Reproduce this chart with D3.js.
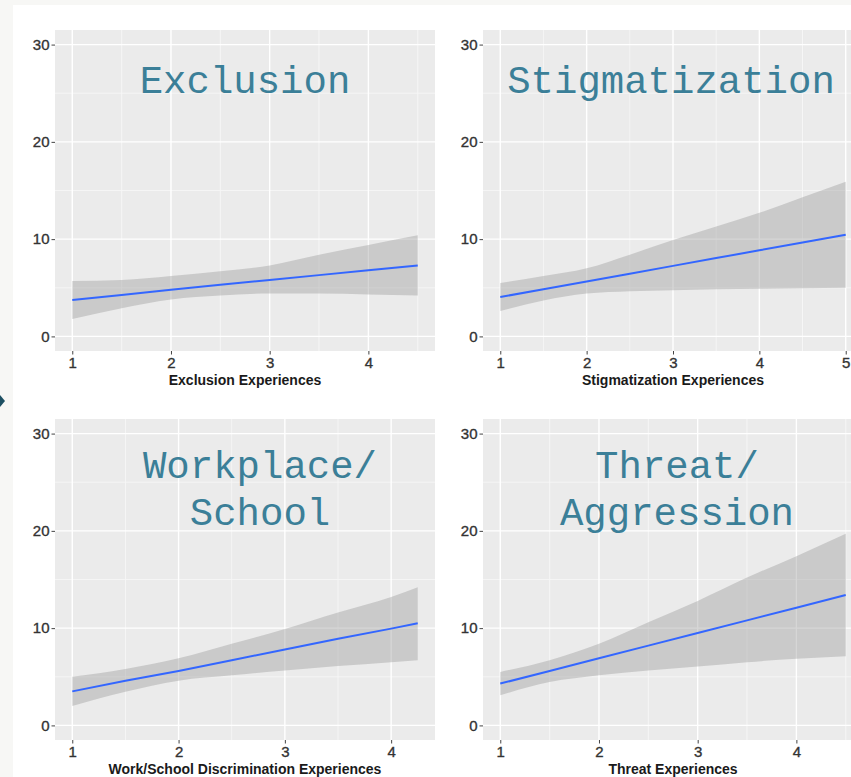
<!DOCTYPE html>
<html><head><meta charset="utf-8">
<script src="https://cdn.jsdelivr.net/npm/d3@7"></script>
<style>html,body{margin:0;padding:0;background:#fff;overflow:hidden}</style>
</head><body><svg id="c" width="851" height="777"></svg>
<script>
// ---------- data ----------
const yLimits = [0, 30];
const yTicks = [0, 10, 20, 30];
const yMinorTicks = [5, 15, 25];

const exclusionX     = [1, 1.5, 2, 2.5, 3, 3.5, 4, 4.5];
const exclusionFit   = [3.75, 4.25, 4.8, 5.3, 5.8, 6.3, 6.8, 7.3];
const exclusionLower = [1.8, 2.9, 3.8, 4.2, 4.4, 4.4, 4.3, 4.2];
const exclusionUpper = [5.7, 5.8, 6.2, 6.7, 7.3, 8.4, 9.4, 10.4];
const exclusionTicks = [1, 2, 3, 4];

const stigmaX     = [1, 1.5, 2, 2.5, 3, 3.5, 4, 4.5, 5];
const stigmaFit   = [4.05, 4.85, 5.65, 6.45, 7.25, 8.05, 8.85, 9.65, 10.45];
const stigmaLower = [2.6, 3.7, 4.4, 4.65, 4.75, 4.85, 4.9, 4.95, 5.0];
const stigmaUpper = [5.5, 6.2, 7.0, 8.4, 9.9, 11.3, 12.7, 14.3, 15.9];
const stigmaTicks = [1, 2, 3, 4, 5];

const workX     = [1, 1.5, 2, 2.5, 3, 3.5, 4, 4.25];
const workFit   = [3.5, 4.6, 5.6, 6.7, 7.8, 8.9, 9.95, 10.5];
const workLower = [2.0, 3.45, 4.6, 5.15, 5.65, 6.1, 6.5, 6.7];
const workUpper = [5.0, 5.8, 6.9, 8.4, 9.9, 11.6, 13.2, 14.2];
const workTicks = [1, 2, 3, 4];

const threatX     = [1, 1.5, 2, 2.5, 3, 3.5, 4, 4.5];
const threatFit   = [4.3, 5.6, 6.9, 8.2, 9.5, 10.8, 12.1, 13.4];
const threatLower = [3.1, 4.45, 5.15, 5.65, 6.05, 6.5, 6.85, 7.1];
const threatUpper = [5.5, 6.7, 8.4, 10.6, 12.8, 15.2, 17.4, 19.7];
const threatTicks = [1, 2, 3, 4];

const panelTitles = [["Exclusion"], ["Stigmatization"], ["Workplace/", "School"], ["Threat/", "Aggression"]];
const axisTitles = ["Exclusion Experiences", "Stigmatization Experiences",
                    "Work/School Discrimination Experiences", "Threat Experiences"];

// ---------- layout ----------
const PW = 380, PH = 321;
const layout = [
  {left: 55,  top: 30,  titleX: 245, titleY: 93},
  {left: 483, top: 30,  titleX: 671, titleY: 93},
  {left: 55,  top: 419, titleX: 260, titleY: 478},
  {left: 483, top: 419, titleX: 677, titleY: 478}
];
const panelData = [
  {x: exclusionX, fit: exclusionFit, lo: exclusionLower, hi: exclusionUpper, ticks: exclusionTicks},
  {x: stigmaX, fit: stigmaFit, lo: stigmaLower, hi: stigmaUpper, ticks: stigmaTicks},
  {x: workX, fit: workFit, lo: workLower, hi: workUpper, ticks: workTicks},
  {x: threatX, fit: threatFit, lo: threatLower, hi: threatUpper, ticks: threatTicks}
];

const svg = d3.select("#c");
svg.append("rect").attr("width", 851).attr("height", 777).attr("fill", "#f7f7f5");
svg.append("rect").attr("x", 13).attr("y", 5).attr("width", 851).attr("height", 777).attr("fill", "#ffffff");
svg.append("path").attr("d", "M0,395 L5,401 L0,407 Z").attr("fill", "#1d4f62");

panelData.forEach((d, i) => {
  const L = layout[i];
  const g = svg.append("g");
  const ext = d3.extent(d.x), pad = (ext[1] - ext[0]) * 0.05;
  const x = d3.scaleLinear().domain([ext[0] - pad, ext[1] + pad]).range([L.left, L.left + PW]);
  const ypad = (yLimits[1] - yLimits[0]) * 0.05;
  const y = d3.scaleLinear().domain([yLimits[0] - ypad, yLimits[1] + ypad]).range([L.top + PH, L.top]);

  g.append("rect").attr("x", L.left).attr("y", L.top).attr("width", PW).attr("height", PH).attr("fill", "#ebebeb");

  const xd = x.domain();
  const xMinor = d3.range(Math.floor(xd[0]) + 0.5, xd[1], 1).filter(v => v > xd[0]);
  // minor grid
  g.selectAll(".ymin").data(yMinorTicks).join("line")
    .attr("x1", L.left).attr("x2", L.left + PW).attr("y1", v => y(v)).attr("y2", v => y(v))
    .attr("stroke", "#f6f6f6").attr("stroke-width", 0.9);
  g.selectAll(".xmin").data(xMinor).join("line")
    .attr("y1", L.top).attr("y2", L.top + PH).attr("x1", v => x(v)).attr("x2", v => x(v))
    .attr("stroke", "#f6f6f6").attr("stroke-width", 0.9);
  // major grid
  g.selectAll(".ymaj").data(yTicks).join("line")
    .attr("x1", L.left).attr("x2", L.left + PW).attr("y1", v => y(v)).attr("y2", v => y(v))
    .attr("stroke", "#ffffff").attr("stroke-width", 1.4);
  g.selectAll(".xmaj").data(d.ticks).join("line")
    .attr("y1", L.top).attr("y2", L.top + PH).attr("x1", v => x(v)).attr("x2", v => x(v))
    .attr("stroke", "#ffffff").attr("stroke-width", 1.4);

  // band
  const pts = d.x.map((v, k) => ({x: v, fit: d.fit[k], lo: d.lo[k], hi: d.hi[k]}));
  g.append("path").datum(pts)
    .attr("d", d3.area().curve(d3.curveMonotoneX).x(p => x(p.x)).y0(p => y(p.lo)).y1(p => y(p.hi)))
    .attr("fill", "#999999").attr("fill-opacity", 0.4);
  g.append("path").datum(pts)
    .attr("d", d3.line().x(p => x(p.x)).y(p => y(p.fit)))
    .attr("fill", "none").attr("stroke", "#3366FF").attr("stroke-width", 2);

  // axes
  const yAxis = d3.axisLeft(y).tickValues(yTicks).tickSize(3.5).tickPadding(2);
  const ya = g.append("g").attr("transform", `translate(${L.left},0)`).call(yAxis);
  const xAxis = d3.axisBottom(x).tickValues(d.ticks).tickSize(3.5).tickPadding(3).tickFormat(d3.format("d"));
  const xa = g.append("g").attr("transform", `translate(0,${L.top + PH})`).call(xAxis);
  [ya, xa].forEach(a => {
    a.select(".domain").remove();
    a.selectAll(".tick line").attr("stroke", "#444").attr("stroke-width", 1);
    a.selectAll(".tick text").attr("fill", "#333")
      .attr("stroke", "#333").attr("stroke-width", 0.35)
      .style("font-family", "'Liberation Sans', Arial, sans-serif").style("font-size", "15px");
  });

  // axis title
  g.append("text").attr("x", L.left + PW / 2).attr("y", L.top + PH + 34)
    .attr("text-anchor", "middle").attr("fill", "#1a1a1a")
    .style("font-family", "'Liberation Sans', Arial, sans-serif").style("font-size", "14px").style("font-weight", "bold")
    .text(axisTitles[i]);

  // panel title
  panelTitles[i].forEach((t, k) => {
    g.append("text").attr("x", L.titleX).attr("y", L.titleY + k * 47)
      .attr("text-anchor", "middle").attr("fill", "#3b7f98")
      .style("font-family", "'Liberation Mono', 'Courier New', monospace").style("font-size", "39px")
      .text(t);
  });
});
</script></body></html>
